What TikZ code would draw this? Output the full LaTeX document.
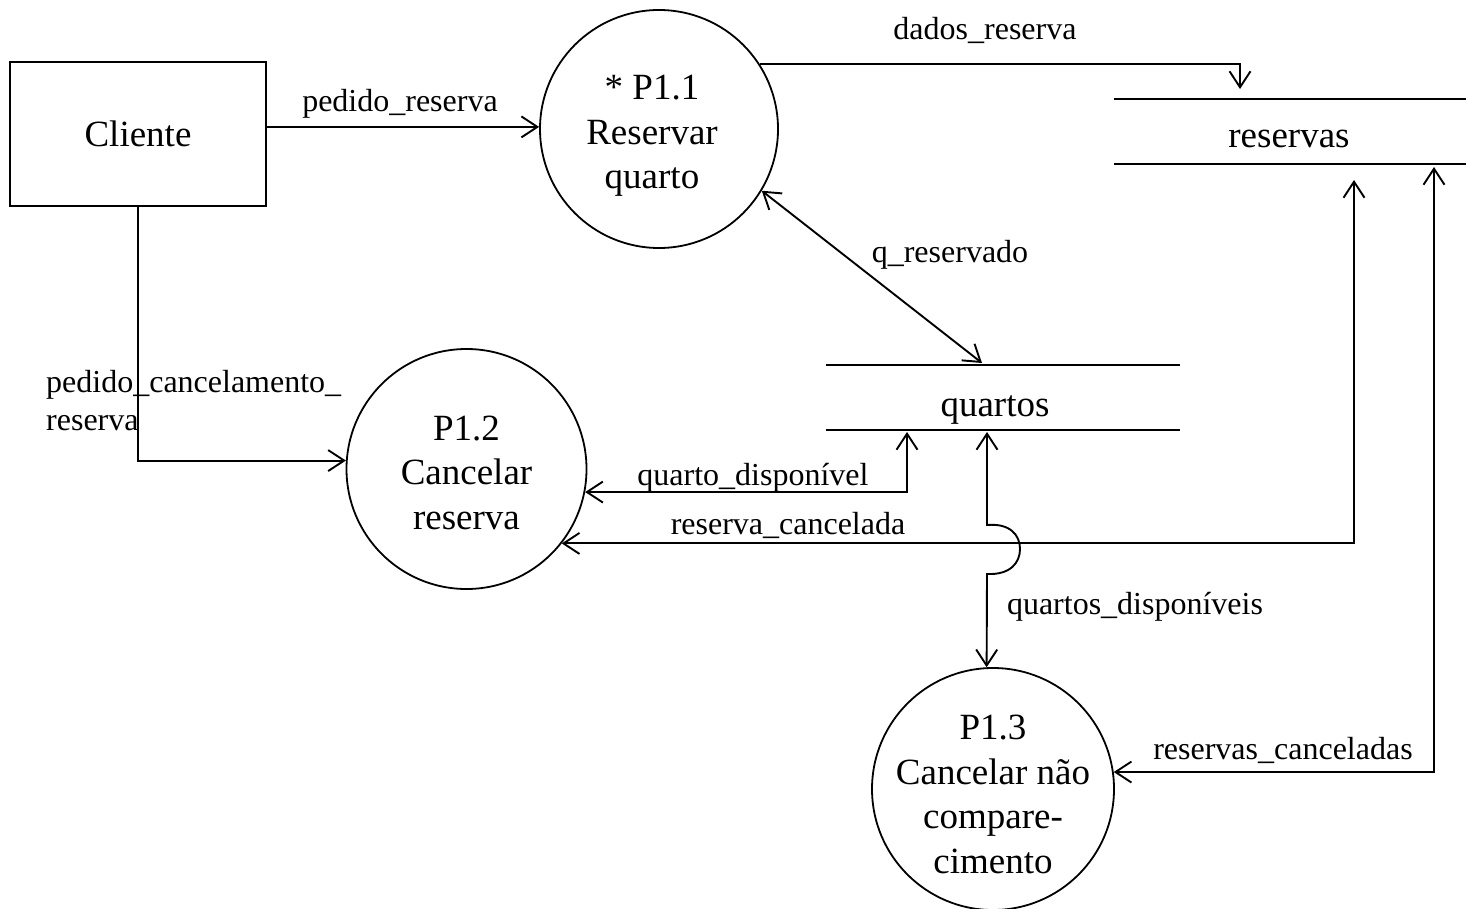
\documentclass[tikz,border=0pt]{standalone}
\usepackage{fontspec}
\setmainfont{Liberation Serif}
\usetikzlibrary{arrows.meta}
\newcommand\bigtxt{\fontsize{37}{44.5}\selectfont}
\newcommand\lbltxt{\fontsize{32}{38}\selectfont}
\newcommand\proctxt[3]{\hspace*{#1}\raisebox{#2}[0pt][0pt]{\begin{tabular}{@{}c@{}}#3\end{tabular}}}
\begin{document}
\begin{tikzpicture}[x=1pt,y=-1pt,
  >={Straight Barb[length=16pt,width=21pt,line width=1.9pt]},
  conn/.style={draw,line width=1.9pt},
  proc/.style={circle,draw,line width=1.8pt,inner sep=0pt,font=\bigtxt},
  ext/.style={rectangle,draw,line width=1.9pt,minimum width=256pt,minimum height=144pt,inner sep=0pt,font=\bigtxt},
  store/.style={rectangle,minimum height=65pt,inner sep=0pt,font=\bigtxt},
  storeline/.style={draw,line width=1.9pt},
  lbl/.style={inner sep=0pt,font=\lbltxt}]
\useasboundingbox (0,0) rectangle (1466,909);

% nodes
\node[ext] (cli) at (138,134) {Cliente};
\node[proc,minimum size=238pt] (p11) at (659,129) {\proctxt{-14pt}{-12.5pt}{* P1.1\\Reservar\\quarto}};
\node[proc,minimum size=240pt] (p12) at (466.5,469) {\proctxt{0pt}{-13pt}{P1.2\\Cancelar\\reserva}};
\node[proc,minimum size=242pt] (p13) at (993,789) {\proctxt{0pt}{-15pt}{P1.3\\Cancelar não\\compare-\\cimento}};
\node[store,minimum width=352pt] (res) at (1290,131.5) {\hspace*{-2pt}\raisebox{-16pt}[0pt][0pt]{reservas}};
\node[store,minimum width=354pt] (qua) at (1003,397.5) {\hspace*{-16pt}\raisebox{-19pt}[0pt][0pt]{quartos}};
\draw[storeline] (res.north west) -- (res.north east);
\draw[storeline] (res.south west) -- (res.south east);
\draw[storeline] (qua.north west) -- (qua.north east);
\draw[storeline] (qua.south west) -- (qua.south east);

% free ends at the stores
\coordinate (dtip) at (1240,89);
\coordinate (qrtip) at (982,363);
\coordinate (qdtip) at (907,432);
\coordinate (qqtip) at (987,432);
\coordinate (rctip) at (1354,180);
\coordinate (rcstip) at (1434,167);

% connectors
\draw[conn,->] (cli.east |- p11.179) -- (p11.179);
\node[lbl] (l1) at (400,104) {pedido\_reserva};

\draw[conn,->] (p11.33.6) -| (dtip);
\node[lbl] (l2) at (985,30) {dados\_reserva};

\draw[conn,<->] (p11.-31) -- (qrtip);
\node[lbl] (l3) at (950,255) {q\_reservado};

\draw[conn,->] (cli.south) |- (p12.176.7);
\node[lbl,align=left,anchor=west] (l4) at (46,401) {pedido\_cancelamento\_\\reserva};

\draw[conn,<->] (p12.-11.5) -| (qdtip);
\node[lbl] (l5) at (753,478) {quarto\_disponível};

\draw[conn,<->] (p12.-38) -| (rctip);
\node[lbl] (l6) at (788,525) {reserva\_cancelada};

\draw[conn,<->] (qqtip) -- (987,525)
  .. controls (1010,523) and (1020,535) .. (1020,549)
  .. controls (1020,563) and (1010,575) .. (987,574)
  -- (p13.93);
\node[lbl] (l7) at (1135,607) {quartos\_disponíveis};

\draw[conn,<->] (rcstip) |- (p13.8.1);
\node[lbl] (l8) at (1283,750) {reservas\_canceladas};
\end{tikzpicture}
\end{document}
